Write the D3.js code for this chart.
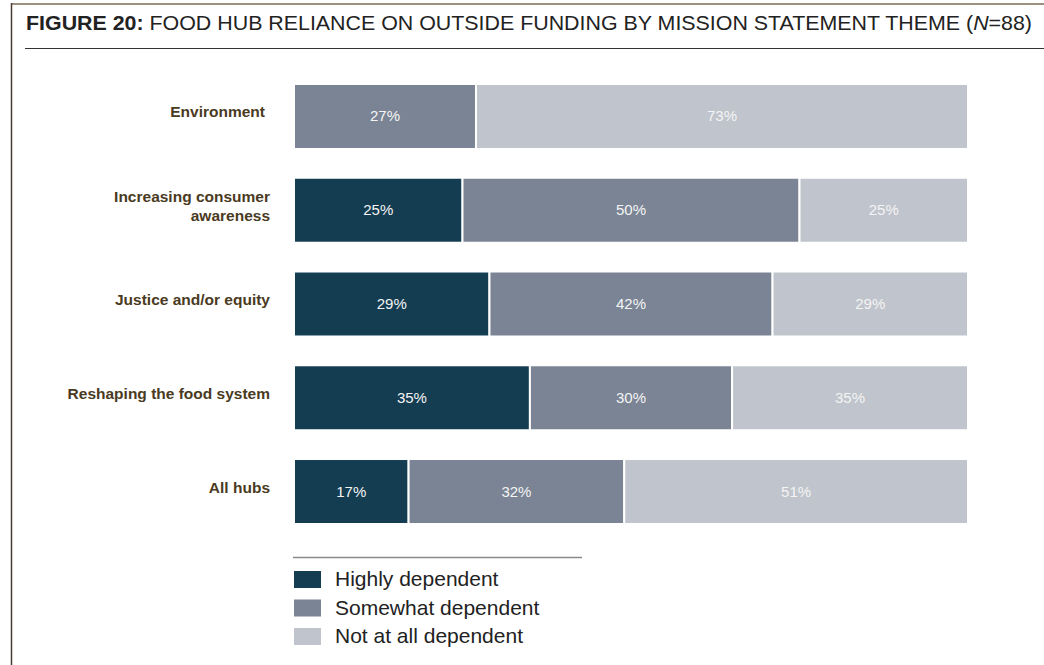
<!DOCTYPE html>
<html><head><meta charset="utf-8">
<script src="https://cdn.jsdelivr.net/npm/d3@7/dist/d3.min.js"></script>
<style>body{margin:0;background:#fff}svg{display:block;font-family:"Liberation Sans",Arial,sans-serif}</style>
</head><body><svg id="c" width="1044" height="665"></svg>
<script>
const categories = ["Environment", "Increasing consumer awareness", "Justice and/or equity", "Reshaping the food system", "All hubs"];
const categoryLines = [["Environment"], ["Increasing consumer", "awareness"], ["Justice and/or equity"], ["Reshaping the food system"], ["All hubs"]];
const seriesNames = ["Highly dependent", "Somewhat dependent", "Not at all dependent"];
const highly = [0, 25, 29, 35, 17];
const somewhat = [27, 50, 42, 30, 32];
const notAtAll = [73, 25, 29, 35, 51];
const colors = ["#143d52", "#7a8494", "#c0c4cc"];

const svg = d3.select("#c");
// frame
svg.append("line").attr("x1", 11).attr("x2", 1044).attr("y1", 4).attr("y2", 4).attr("stroke", "#9c9282").attr("stroke-width", 2);
svg.append("line").attr("x1", 11.5).attr("x2", 11.5).attr("y1", 3).attr("y2", 665).attr("stroke", "#4a3c30").attr("stroke-width", 1.5);
svg.append("line").attr("x1", 25).attr("x2", 1044).attr("y1", 48.5).attr("y2", 48.5).attr("stroke", "#333").attr("stroke-width", 1.2);

const title = svg.append("text").attr("x", 26).attr("y", 30).attr("font-size", 21).attr("fill", "#222");
title.append("tspan").attr("font-weight", "bold").text("FIGURE 20:");
title.append("tspan").text(" FOOD HUB RELIANCE ON OUTSIDE FUNDING BY MISSION STATEMENT THEME (");
title.append("tspan").attr("font-style", "italic").text("N");
title.append("tspan").text("=88)");
title.attr("textLength", 1032 - 26).attr("lengthAdjust", "spacingAndGlyphs");

const x = d3.scaleLinear().domain([0, 100]).range([294, 968]);
const y = d3.scaleBand().domain(categories).range([84, 524]).paddingInner(0.307).paddingOuter(0);

const rows = categories.map((c, i) => {
  const vals = [highly[i], somewhat[i], notAtAll[i]];
  let acc = 0;
  return vals.map((v, k) => { const s = {cat: c, k, v, x0: acc, x1: acc + v}; acc += v; return s; });
});
const segs = rows.flat().filter(d => d.v > 0);

svg.append("g").selectAll("rect").data(segs).join("rect")
  .attr("x", d => x(d.x0)).attr("width", d => x(d.x1) - x(d.x0))
  .attr("y", d => y(d.cat)).attr("height", y.bandwidth())
  .attr("fill", d => colors[d.k]).attr("stroke", "#fff").attr("stroke-width", 2);

svg.append("g").selectAll("text").data(segs).join("text")
  .attr("x", d => (x(d.x0) + x(d.x1)) / 2).attr("y", d => y(d.cat) + y.bandwidth() / 2 + 5)
  .attr("text-anchor", "middle").attr("font-size", 15).attr("fill", "#f4f4f4")
  .text(d => d.v + "%");

const lab = svg.append("g").selectAll("text").data(categories).join("text")
  .attr("text-anchor", "end").attr("font-size", 15.5).attr("font-weight", "bold").attr("fill", "#4a3a22")
  .attr("x", 270);
lab.each(function(c, i) {
  const lines = categoryLines[i];
  const cy = y(c) + y.bandwidth() / 2;
  const t = d3.select(this);
  lines.forEach((l, j) => {
    t.append("tspan").attr("x", c === "Environment" ? 265 : 270)
      .attr("y", cy + 1 + (j - (lines.length - 1) / 2) * 19).text(l);
  });
});

// legend
svg.append("line").attr("x1", 293).attr("x2", 582).attr("y1", 557.5).attr("y2", 557.5).attr("stroke", "#8a8a8a").attr("stroke-width", 1.5);
const lg = svg.append("g").selectAll("g").data(seriesNames).join("g")
  .attr("transform", (d, i) => `translate(294,${571 + i * 28.5})`);
lg.append("rect").attr("width", 27).attr("height", 17).attr("fill", (d, i) => colors[i]);
lg.append("text").attr("x", 41).attr("y", 15).attr("font-size", 21).attr("fill", "#222").text(d => d);
</script></body></html>
